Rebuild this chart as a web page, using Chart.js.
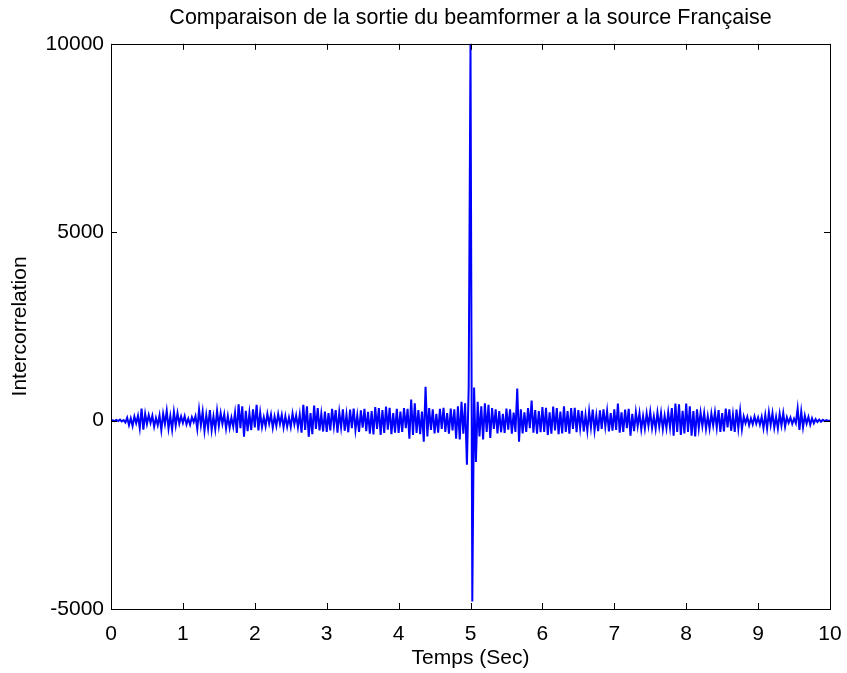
<!DOCTYPE html>
<html lang="fr">
<head>
<meta charset="utf-8">
<title>Intercorrélation</title>
<script src="https://cdn.jsdelivr.net/npm/chart.js@4/dist/chart.umd.min.js"></script>
<style>
    html, body { margin: 0; padding: 0; background: #fff; }
    .graphe { position: relative; width: 847px; height: 673px; }
</style>
</head>
<body>
<div class="graphe"><canvas id="corrChart" width="847" height="673"></canvas></div>
<script>
// Échantillonnage de l'intercorrélation (s)
const t0 = 0;
const dt = 0.025;

// Valeurs par seconde de signal (40 échantillons chacune)
const seg0 = [0, 10, -15, 20, -10, 25, -20, 15,
    -50, 80, -120, 60, -140, 110, -70, 130,
    -200, 320, -240, 180,
    -90, 150, -60, 130, -160, 70, -120, 140,
    -250, 180, -90, 260, -210, 120, -240, 230, -130, 200,
    -80, 110];
const seg1 = [-60, 120, -100, 50, -110, 90, -40, 120,
    -220, 290, -120, 240, -270, 150, -200, 280, -250, 110, -230, 260,
    -140, 200, -90, 170, -210, 120, -190, 80, -160, 210,
    -330, 430, -200, 380, -430, 260,
    -280, 200, -250, 300];
const seg2 = [-180, 420, -260, 210,
    -170, 90, -150, 180, -80, 160, -190, 110, -140, 170, -90, 150, -180, 120, -160, 80, -170, 190, -100, 140, -180, 160,
    -320, 420, -250, 380, -430, 200, -360, 400, -220, 330,
    -260, 180, -290, 240];
const seg3 = [-300, 200, -260, 310, -150, 280, -320, 220, -180, 300, -270, 160,
    -310, 290, -200, 320, -250, 140, -300, 270, -190, 310, -280, 230,
    -350, 250, -370, 360, -220, 330, -380, 280, -330, 370, -240, 340, -360, 200, -320, 310];
const seg4 = [-330, 240, -300, 330, -200, 310,
    -480, 560, -380, 460,
    -330, 280, -360, 240, -560, 900, -420,
    330, -250, 300, -340, 180, -320, 310, -220, 340, -300, 200, -350, 320, -260, 300,
    -480, 380, -500, 500, -350, 460,
    -1170, 900];
const seg5 = [10000, -4800, 880, -1100,
    500, -420, 380, -500, 460, -300, 420, -460,
    330, -220, 300, -340, 250, -310, 180, -330, 320, -240, 300, -350, 210, -300,
    850, -560,
    300, -340, 220, -300, 330, -200, 530, -320, 280, -350, 250, -310];
const seg6 = [360, -300, 340, -380, 220, -350, 370, -260, 330, -360, 240, -340, 380, -300, 250, -350, 330, -220, 340, -310,
    280, -200, 260, -290, 150, -270, 250, -180, 290, -260, 140, -280, 270, -220, 300, -160, 250, -290, 200, -270];
const seg7 = [300, -250, 450, -320, 220, -300,
    290, -200, 310, -400, 180, -280,
    220, -150, 200, -230, 120, -210, 190, -140, 230, -200, 110, -220, 210, -160, 200, -230, 130, -200, 220, -180,
    330, -400, 450, -300, 430, -380, 260, -340];
const seg8 = [450, -300, 380, -400, 250, -420, 300, -200,
    210, -150, 200, -220, 120, -210, 190, -130, 220, -190,
    280, -300, 200, -290, 320, -180, 300, -270, 160, -300, 290, -200, 260, -230,
    110, -70, 100, -120, 60, -100, 110, -80];
const seg9 = [80, -110, 100,
    -200, 150, -210, 220, -120, 200, -190, 100, -210, 180, -130, 200, -160,
    90, -60, 80, -90, 50, -70,
    320, -250, 240, -180,
    130, -80, 100, -110, 60, -70,
    40, -35, 25, -30, 20, -15, 15, -10,
    0];

const valeurs = [].concat(seg0, seg1, seg2, seg3, seg4, seg5, seg6, seg7, seg8, seg9);

// Graduations des axes
const ticksX = [0, 1, 2, 3, 4, 5, 6, 7, 8, 9, 10];
const ticksY = [-5000, 0, 5000, 10000];

const points = valeurs.map((v, i) => ({ x: t0 + i * dt, y: v }));

const police = "'Liberation Sans', Arial, sans-serif";

// Cadre et graduations intérieures façon MATLAB
const cadre = {
    id: 'cadre',
    afterDatasetsDraw(chart) {
        const { ctx, chartArea: a, scales } = chart;
        const lg = 6;
        ctx.save();
        ctx.strokeStyle = '#000';
        ctx.lineWidth = 1;
        ctx.beginPath();
        ticksX.forEach(v => {
            const px = Math.round(scales.x.getPixelForValue(v)) + 0.5;
            ctx.moveTo(px, a.bottom); ctx.lineTo(px, a.bottom - lg);
            ctx.moveTo(px, a.top); ctx.lineTo(px, a.top + lg);
        });
        ticksY.forEach(v => {
            const py = Math.round(scales.y.getPixelForValue(v)) + 0.5;
            ctx.moveTo(a.left, py); ctx.lineTo(a.left + lg, py);
            ctx.moveTo(a.right, py); ctx.lineTo(a.right - lg, py);
        });
        ctx.stroke();
        ctx.strokeRect(Math.round(a.left) + 0.5, Math.round(a.top) + 0.5,
            Math.round(a.right - a.left), Math.round(a.bottom - a.top));
        ctx.restore();
    }
};

new Chart(document.getElementById('corrChart'), {
    type: 'line',
    data: {
        datasets: [{
            data: points,
            borderColor: '#0000ff',
            borderWidth: 2,
            pointRadius: 0,
            tension: 0,
            fill: false
        }]
    },
    options: {
        responsive: false,
        animation: false,
        layout: { padding: { left: 0, right: 17, top: 0, bottom: 0 } },
        plugins: {
            legend: { display: false },
            tooltip: { enabled: false },
            title: {
                display: true,
                fullSize: false,
                text: 'Comparaison de la sortie du beamformer a la source Française',
                color: '#000',
                font: { family: police, size: 21.5, weight: 'normal' },
                padding: { top: 5, bottom: 13 }
            }
        },
        scales: {
            x: {
                type: 'linear',
                min: 0,
                max: 10,
                afterBuildTicks: s => { s.ticks = ticksX.map(v => ({ value: v })); },
                afterFit: s => { s.height = 64; s.paddingLeft = 0; s.paddingRight = 0; },
                grid: { display: false, drawTicks: false },
                border: { display: false },
                ticks: { color: '#000', padding: 13, maxRotation: 0, font: { family: police, size: 21 }, callback: v => String(v) },
                title: {
                    display: true,
                    text: 'Temps (Sec)',
                    color: '#000',
                    font: { family: police, size: 21 },
                    padding: { top: 0, bottom: 2 }
                }
            },
            y: {
                min: -5000,
                max: 10000,
                afterBuildTicks: s => { s.ticks = ticksY.map(v => ({ value: v })); },
                afterFit: s => { s.width = 111; },
                grid: { display: false, drawTicks: false },
                border: { display: false },
                ticks: { color: '#000', padding: 7, font: { family: police, size: 21 }, callback: v => String(v) },
                title: {
                    display: true,
                    text: 'Intercorrelation',
                    color: '#000',
                    font: { family: police, size: 21 },
                    padding: { top: 8, bottom: 0 }
                }
            }
        }
    },
    plugins: [cadre]
});
</script>
</body>
</html>
